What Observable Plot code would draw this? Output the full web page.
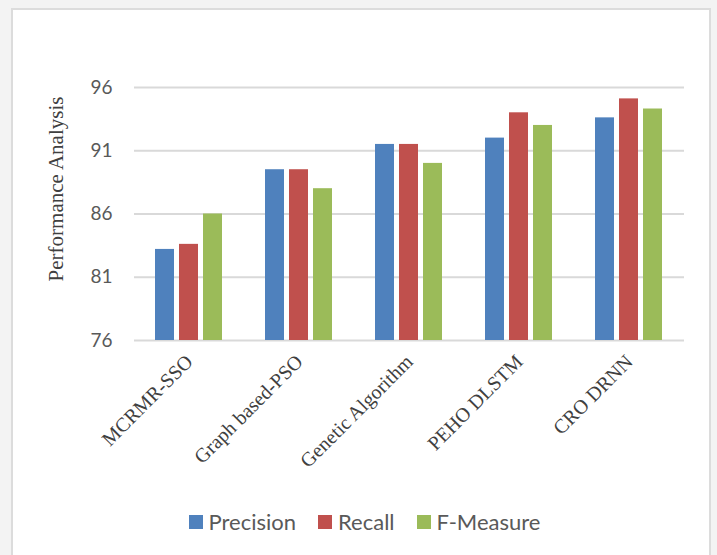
<!DOCTYPE html>
<html>
<head>
<meta charset="utf-8">
<script src="https://cdn.jsdelivr.net/npm/d3@7"></script>
<script src="https://cdn.jsdelivr.net/npm/@observablehq/plot@0.6"></script>
<style>
  html, body { margin: 0; padding: 0; background: #f3f3f3; width: 717px; height: 555px; overflow: hidden; }
  #box { position: absolute; left: 11px; top: 8px; width: 700px; height: 560px; background: #fff;
         border: 2px solid #dcdcdc; box-sizing: border-box; }
  #chart { position: absolute; left: 0; top: 0; }
  #ytitle { position: absolute; left: 56px; top: 189px; transform: translate(-50%, -50%) rotate(-90deg);
            white-space: nowrap; font-family: "Liberation Serif", "DejaVu Serif", serif; font-size: 21px; color: #404040; }
  #legend { position: absolute; left: 6px; top: 508px; width: 717px; display: flex; justify-content: center;
            font-family: Lato, "Open Sans", sans-serif; font-size: 22px; color: #595959; }
  #legend .item { display: flex; align-items: center; margin: 0 11px; }
  #legend .sw { width: 14px; height: 14px; margin-right: 6px; }
</style>
</head>
<body>
<div id="box"></div>
<div id="chart"></div>
<div id="ytitle"></div>
<div id="legend"></div>
<script>
const categories = ["MCRMR-SSO", "Graph based-PSO", "Genetic Algorithm", "PEHO DLSTM", "CRO DRNN"];
const seriesNames = ["Precision", "Recall", "F-Measure"];
const precision = [83.2, 89.5, 91.5, 92.0, 93.6];
const recall    = [83.6, 89.5, 91.5, 94.0, 95.1];
const fMeasure  = [86.0, 88.0, 90.0, 93.0, 94.3];
const colors = ["#4F81BD", "#C0504D", "#9BBB59"];
const yTicks = [76, 81, 86, 91, 96];
const yDomain = [76, 96];
const yTitle = "Performance Analysis";

const seriesValues = [precision, recall, fMeasure];
const data = [];
categories.forEach((c, i) => {
  seriesNames.forEach((s, j) => data.push({category: c, series: s, value: seriesValues[j][i]}));
});

const chart = Plot.plot({
  width: 717,
  height: 480,
  marginLeft: 135,
  marginRight: 33,
  marginTop: 87,
  marginBottom: 140,
  style: {background: "transparent", overflow: "visible"},
  fx: {domain: categories, paddingInner: 0.38, paddingOuter: 0.185, label: null},
  x: {domain: seriesNames, paddingInner: 0.2, paddingOuter: 0, axis: null},
  y: {domain: yDomain, axis: null},
  color: {domain: seriesNames, range: colors},
  marks: [
    Plot.ruleY(yTicks, {stroke: "#d9d9d9", strokeWidth: 2, insetLeft: -21, insetRight: -21}),
    Plot.barY(data, {fx: "category", x: "series", y1: yDomain[0], y2: "value", fill: "series"}),
    Plot.axisY({ticks: yTicks, tickSize: 0, tickPadding: 43, label: null,
      fontFamily: "Lato, 'Open Sans', sans-serif", fontSize: 19, fill: "#595959"}),
    Plot.axisFx({anchor: "bottom", tickSize: 0, tickPadding: 18, tickRotate: -45, label: null,
      fontFamily: "'Liberation Serif', 'DejaVu Serif', serif", fontSize: 20, fill: "#404040"})
  ]
});
document.getElementById("chart").appendChild(chart);
document.getElementById("ytitle").textContent = yTitle;

const legend = document.getElementById("legend");
seriesNames.forEach((s, j) => {
  const item = document.createElement("div");
  item.className = "item";
  const sw = document.createElement("div");
  sw.className = "sw";
  sw.style.background = colors[j];
  const t = document.createElement("span");
  t.textContent = s;
  item.appendChild(sw);
  item.appendChild(t);
  legend.appendChild(item);
});
</script>
</body>
</html>
